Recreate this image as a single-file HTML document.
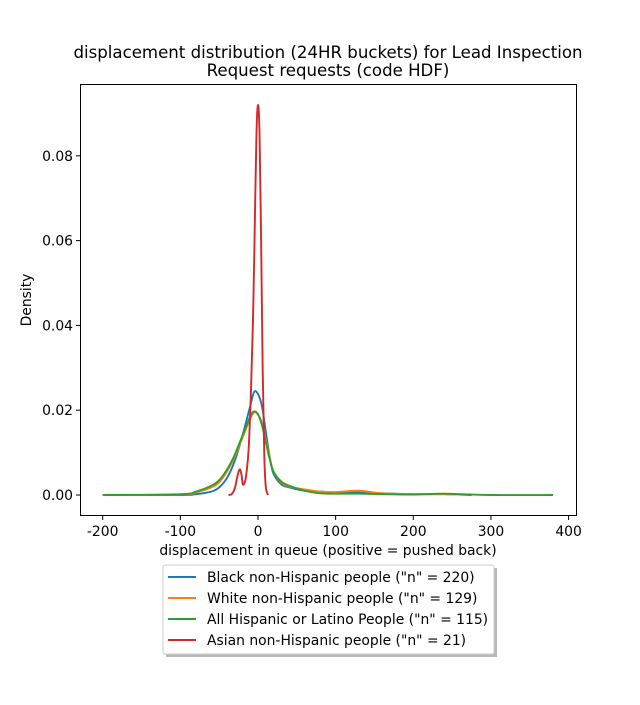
<!DOCTYPE html>
<html><head><meta charset="utf-8"><style>
body{margin:0;background:#fff;font-family:"Liberation Sans","DejaVu Sans",sans-serif;}
svg text{font-family:"DejaVu Sans","Liberation Sans",sans-serif;}
</style></head><body>
<svg id="c" width="640" height="700">
<text x="328" y="58" font-size="16.6" text-anchor="middle">displacement distribution (24HR buckets) for Lead Inspection</text>
<text x="328" y="76" font-size="16.6" text-anchor="middle">Request requests (code HDF)</text>
<g id="plot"></g>
<rect x="80.5" y="84.5" width="496" height="431" fill="none" stroke="#000" stroke-width="1"/>
<text x="328" y="555" font-size="13.9" text-anchor="middle">displacement in queue (positive = pushed back)</text>
<text transform="translate(31,300) rotate(-90)" font-size="13.9" text-anchor="middle">Density</text>
<g>
<rect x="166" y="568" width="331" height="89" fill="#888" opacity="0.6"/>
<rect x="163" y="565" width="331" height="89" rx="2" fill="#fff" stroke="#ccc"/>
<g id="leg"></g>
</g>
</svg>
<script>
const tickX=[-200,-100,0,100,200,300,400];
const tickY=[0,0.02,0.04,0.06,0.08];
const seriesNames=['Black non-Hispanic people ("n" = 220)','White non-Hispanic people ("n" = 129)','All Hispanic or Latino People ("n" = 115)','Asian non-Hispanic people ("n" = 21)'];
const colors=['#1f77b4','#ff7f0e','#2ca02c','#d62728'];
const blackX=[-200,-100,-80,-60,-50,-40,-30,-20,-10,-5,0,5,10,15,20,30,40,60,80,100,130,160,200,240,275];
const blackY=[0,0,0.0002,0.0008,0.0018,0.004,0.008,0.014,0.021,0.0243,0.0238,0.021,0.015,0.009,0.005,0.0025,0.0018,0.001,0.0008,0.0006,0.0006,0.0004,0.0002,0.0002,0];
const whiteX=[-200,-100,-80,-60,-50,-40,-30,-20,-10,-5,0,5,10,15,20,30,40,60,80,100,130,160,200,240,270];
const whiteY=[0,0.0001,0.0006,0.0018,0.003,0.0055,0.009,0.0135,0.018,0.0195,0.019,0.017,0.013,0.009,0.0055,0.003,0.002,0.0013,0.0008,0.0007,0.001,0.0004,0.0002,0.0002,0];
const hispX=[-200,-100,-80,-60,-50,-40,-30,-20,-10,-5,0,5,10,15,20,30,40,60,80,100,130,160,200,240,300,380];
const hispY=[0,0.0002,0.0008,0.0022,0.0035,0.006,0.0095,0.014,0.0185,0.0197,0.019,0.0165,0.0125,0.0085,0.0055,0.0032,0.0022,0.001,0.0004,0.0003,0.0003,0.0002,0.0001,0.0003,0,0];
const asianX=[-38,-34,-30,-27,-25,-23,-21,-19.5,-17,-15,-12,-9,-6,-4,-2,0,2,4,6,8,10,13];
const asianY=[0,0.0002,0.0015,0.004,0.0055,0.006,0.0045,0.0025,0.003,0.005,0.011,0.025,0.045,0.065,0.085,0.092,0.085,0.06,0.03,0.01,0.002,0];
const seriesX=[blackX,whiteX,hispX,asianX];
const seriesY=[blackY,whiteY,hispY,asianY];
const NS='http://www.w3.org/2000/svg';
const sx=v=>258+0.7765*v, sy=v=>495-4240*v;
const plot=document.getElementById('plot');
function mk(t,a,p){const e=document.createElementNS(NS,t);for(const k in a)e.setAttribute(k,a[k]);p.appendChild(e);return e;}
tickX.forEach(t=>{
 const l=mk('line',{x1:sx(t),x2:sx(t),y1:515.5,y2:520,stroke:'#000'},plot);
 
 
 const tx=mk('text',{x:sx(t),y:536,'font-size':13.9,'text-anchor':'middle'},plot);tx.textContent=t;
 
 
});
tickY.forEach(t=>{
 const l=mk('line',{x1:76,x2:80.5,y1:sy(t),y2:sy(t),stroke:'#000'},plot);
 
 
 const tx=mk('text',{x:73,y:sy(t)+5,'font-size':13.9,'text-anchor':'end'},plot);tx.textContent=t.toFixed(2);
 
 
});
function smooth(pts){let d='M'+pts[0][0]+','+pts[0][1];
 for(let i=0;i<pts.length-1;i++){const p0=pts[i-1]||pts[i],p1=pts[i],p2=pts[i+1],p3=pts[i+2]||p2;
  d+=' C'+(p1[0]+(p2[0]-p0[0])/6)+','+(p1[1]+(p2[1]-p0[1])/6)+' '+(p2[0]-(p3[0]-p1[0])/6)+','+(p2[1]-(p3[1]-p1[1])/6)+' '+p2[0]+','+p2[1];}
 return d;}
seriesX.forEach((xs,i)=>{
 const pts=xs.map((x,j)=>[sx(x),sy(seriesY[i][j])]);
 const p=mk('path',{d:smooth(pts),fill:'none',stroke:colors[i],'stroke-width':1.9},plot);
 
 
});
const leg=document.getElementById('leg');
seriesNames.forEach((n,i)=>{const y=577+i*21;
 const l=mk('line',{x1:168,x2:196,y1:y,y2:y,stroke:colors[i],'stroke-width':1.9},leg);
 
 
 const t=mk('text',{x:207,y:y+5,'font-size':13.9},leg);t.textContent=n;
 
 
});
</script>
</body></html>
